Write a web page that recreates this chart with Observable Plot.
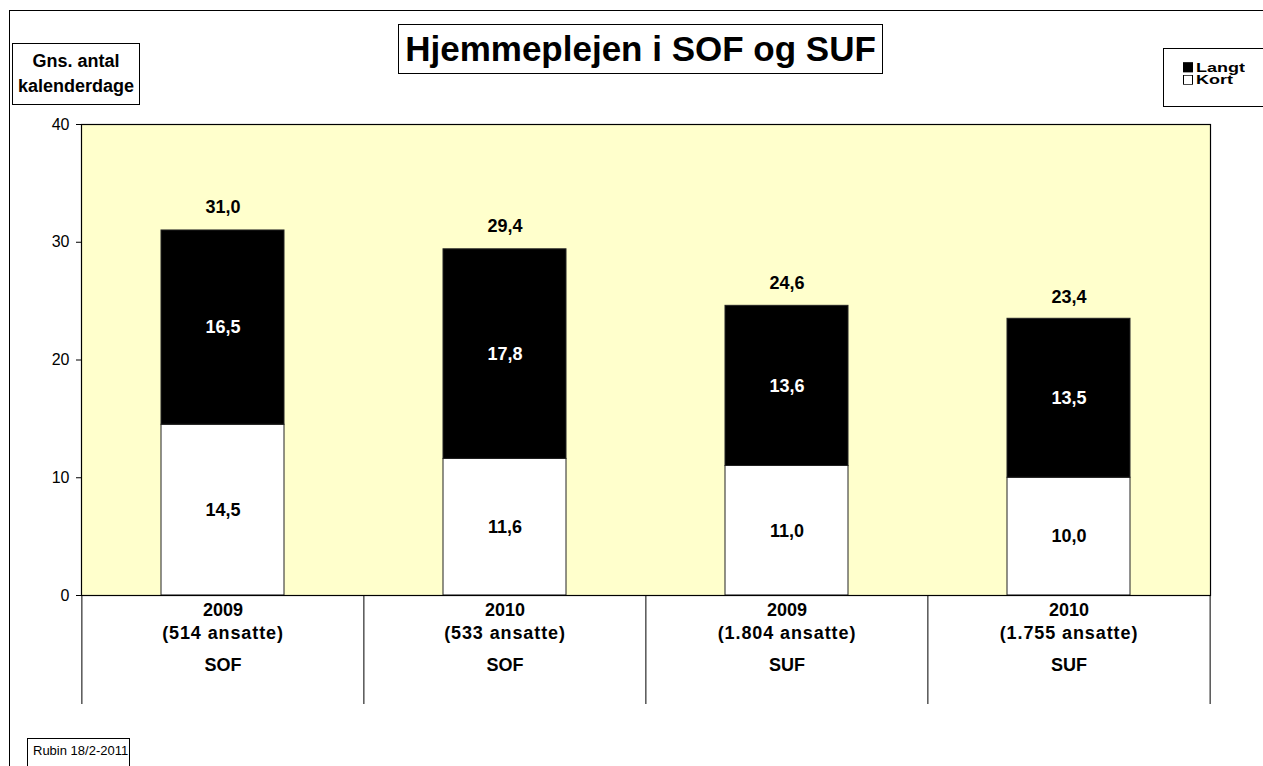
<!DOCTYPE html>
<html>
<head>
<meta charset="utf-8">
<script src="https://cdn.jsdelivr.net/npm/d3@7"></script>
<script src="https://cdn.jsdelivr.net/npm/@observablehq/plot@0.6"></script>
<style>
  html, body { margin: 0; padding: 0; background: #fff; overflow: hidden; }
  body { font-family: Arial, "Liberation Sans", sans-serif; color: #000; }
  #wrap { position: relative; width: 1263px; height: 766px; overflow: hidden; }
  #chart { position: absolute; left: 0; top: 0; }
  .box { position: absolute; border: 1px solid #000; background: #fff; box-sizing: border-box; }
  #outer { left: 9px; top: 10px; width: 1300px; height: 800px; background: transparent; }
  #title { left: 398px; top: 24px; width: 485px; height: 50px; font-weight: bold; font-size: 35px;
           display: flex; align-items: center; justify-content: center; }
  #ylab { left: 12px; top: 43px; width: 128px; height: 62px; font-weight: bold; font-size: 18px;
          display: flex; flex-direction: column; align-items: center; justify-content: center; line-height: 25px; }
  #legend { left: 1163px; top: 48px; width: 140px; height: 59px; font-weight: bold; font-size: 18px; line-height: 18px; }
  #legend .items { position: absolute; left: 19px; top: 12px; transform: scaleY(0.7); transform-origin: 0 0; }
  #legend .sw { display: inline-block; width: 10px; height: 14px; box-sizing: border-box; border: 1px solid #000;
                margin-right: 3px; vertical-align: -1px; }
  #rubin { left: 27px; top: 738px; width: 103px; height: 40px; font-size: 13px; padding: 4px 0 0 5px; }
  .staff-label text { letter-spacing: 0.9px; }
</style>
</head>
<body>
<div id="wrap">
  <div id="outer" class="box"></div>
  <div id="chart"></div>
  <div id="title" class="box">Hjemmeplejen i SOF og SUF</div>
  <div id="ylab" class="box"><div>Gns. antal</div><div>kalenderdage</div></div>
  <div id="legend" class="box"><div class="items" id="legendItems"></div></div>
  <div id="rubin" class="box">Rubin 18/2-2011</div>
</div>
<script>
// ---- data ----
const groups = ["SOF", "SOF", "SUF", "SUF"];
const years = ["2009", "2010", "2009", "2010"];
const staff = ["(514 ansatte)", "(533 ansatte)", "(1.804 ansatte)", "(1.755 ansatte)"];
const kort = [14.5, 11.6, 11.0, 10.0];
const langt = [16.5, 17.8, 13.6, 13.5];
const totals = [31.0, 29.4, 24.6, 23.4];
const seriesNames = ["Kort", "Langt"];
const seriesColors = ["#ffffff", "#000000"];
const legendOrder = ["Langt", "Kort"];
const yTicks = [0, 10, 20, 30, 40];

// ---- derived tables ----
const cats = groups.map((g, i) => `${g} ${years[i]}`);
const rows = [];
cats.forEach((c, i) => {
  rows.push({cat: c, series: "Kort", value: kort[i]});
  rows.push({cat: c, series: "Langt", value: langt[i]});
});
const totalRows = cats.map((c, i) => ({cat: c, total: totals[i]}));
const fmt = v => v.toFixed(1).replace(".", ",");

// ---- layout ----
const W = 1263, H = 766;
const mL = 81, mR = 53, mT = 124, mB = 171;
const padIn = 0.564, padOut = padIn / 2;
const step = d3.scaleBand().domain(cats).range([mL, W - mR]).paddingInner(padIn).paddingOuter(padOut).step();
const frameH = H - mT - mB;
const catAxisDepth = 109;
const font = "Arial, 'Liberation Sans', sans-serif";
const fs = 18;

const plot = Plot.plot({
  width: W, height: H,
  marginLeft: mL, marginRight: mR, marginTop: mT, marginBottom: mB,
  style: {fontFamily: font, color: "#000", background: "transparent", overflow: "visible"},
  x: {domain: cats, paddingInner: padIn, paddingOuter: padOut, axis: null},
  y: {domain: [0, 40], axis: null},
  color: {domain: seriesNames, range: seriesColors},
  marks: [
    Plot.frame({fill: "#ffffcc", stroke: null}),
    Plot.axisY({ticks: yTicks, tickSize: 5, tickPadding: 7, fontSize: 16, label: null, stroke: "#000", fill: "#000"}),
    Plot.barY(rows, {x: "cat", y: "value", fill: "series", stroke: "#222", strokeWidth: 1}),
    Plot.frame({stroke: "#000", strokeWidth: 1.2}),
    Plot.text(rows, Plot.stackY({x: "cat", y: "value",
      text: d => d.series === "Kort" ? fmt(d.value) : null,
      fill: "#000", fontWeight: "bold", fontSize: fs})),
    Plot.text(rows, Plot.stackY({x: "cat", y: "value",
      text: d => d.series === "Langt" ? fmt(d.value) : null,
      fill: "#fff", fontWeight: "bold", fontSize: fs})),
    Plot.text(totalRows, {x: "cat", y: "total", text: d => fmt(d.total), dy: -23,
      fill: "#000", fontWeight: "bold", fontSize: fs}),
    // category axis separators
    Plot.ruleX(cats, {x: d => d, dx: -step / 2, insetTop: frameH, insetBottom: -catAxisDepth, stroke: "#000"}),
    Plot.ruleX(cats.slice(-1), {x: d => d, dx: step / 2, insetTop: frameH, insetBottom: -catAxisDepth, stroke: "#000"}),
    // category labels
    Plot.text(cats, {x: d => d, text: (d, i) => years[i], frameAnchor: "bottom", dy: 20,
      fill: "#000", fontWeight: "bold", fontSize: fs}),
    Plot.text(cats, {x: d => d, text: (d, i) => staff[i], frameAnchor: "bottom", dy: 43,
      fill: "#000", fontWeight: "bold", fontSize: fs, className: "staff-label"}),
    Plot.text(cats, {x: d => d, text: (d, i) => groups[i], frameAnchor: "bottom", dy: 75,
      fill: "#000", fontWeight: "bold", fontSize: fs})
  ]
});
document.getElementById("chart").appendChild(plot);
// widen letter spacing of the staff-count labels (fallback if className unsupported)
d3.select(plot).selectAll("text").filter(function() { return /ansatte/.test(this.textContent); })
  .style("letter-spacing", "0.9px");

// legend items (swatch colours from the same colour scale)
const color = plot.scale("color");
const items = document.getElementById("legendItems");
legendOrder.forEach(name => {
  const row = document.createElement("div");
  const sw = document.createElement("span");
  sw.className = "sw";
  sw.style.background = color.apply(name);
  row.appendChild(sw);
  row.appendChild(document.createTextNode(name));
  items.appendChild(row);
});
</script>
</body>
</html>
